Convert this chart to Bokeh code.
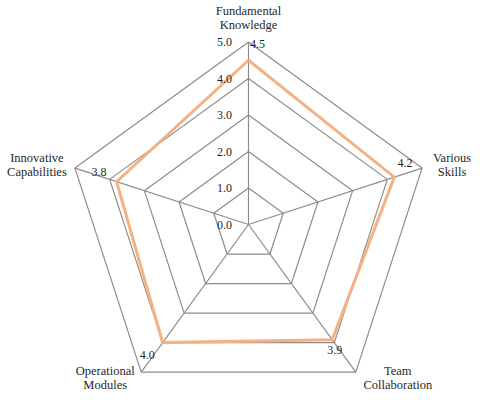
import numpy as np
from bokeh.plotting import figure
from bokeh.models import Range1d
from bokeh.core.properties import value
from bokeh.embed import file_html
from bokeh.resources import INLINE

categories = ["Fundamental\nKnowledge", "Various\nSkills", "Team\nCollaboration",
              "Operational\nModules", "Innovative\nCapabilities"]
scores = [4.5, 4.2, 3.9, 4.0, 3.8]
ring_values = [0.0, 1.0, 2.0, 3.0, 4.0, 5.0]
ring_labels = ["0.0", "1.0", "2.0", "3.0", "4.0", "5.0"]
max_value = 5.0

# styling (pixel offsets for labels, screen coords: +y is down)
cat_offsets = [(0, -24), (30, -3), (42, 6), (-36, 6), (-38, -3)]
val_offsets = [(9, 1.5), (-17, -5), (-21, -22), (6, -17), (24, 4)]

PX = 36.5  # pixels per unit
W, H = 472, 392
CX, CY = 248, 224
p = figure(width=W, height=H, output_backend="svg", toolbar_location=None,
           x_range=Range1d(-CX / PX, (W - CX) / PX), y_range=Range1d(-(H - CY) / PX, CY / PX),
           min_border=0)
p.axis.visible = False
p.grid.visible = False
p.outline_line_color = None
p.background_fill_color = "white"

n = len(categories)
ang = np.pi / 2 - np.arange(n) * 2 * np.pi / n
cx, cy = np.cos(ang), np.sin(ang)

grid_col = "#8c8c8c"
# rings
xs = [list(np.append(cx * r, cx[0] * r)) for r in ring_values[1:]]
ys = [list(np.append(cy * r, cy[0] * r)) for r in ring_values[1:]]
p.multi_line(xs, ys, line_color=grid_col, line_width=1.2)
# spokes
p.segment(x0=[0] * n, y0=[0] * n, x1=list(cx * max_value), y1=list(cy * max_value),
          line_color=grid_col, line_width=1.2)

# data
sv = np.array(scores)
p.line(list(np.append(cx * sv, cx[0] * sv[0])), list(np.append(cy * sv, cy[0] * sv[0])),
       line_color="#F4B183", line_width=3, line_join="miter")

font = value("Liberation Serif")
txt_col = "#1f1f1f"

# ring labels
p.text(x=[-24 / PX] * len(ring_values), y=ring_values, text=ring_labels,
       text_font=font, text_font_size="12px", text_color=txt_col,
       text_align="center", text_baseline="middle")

# value labels
for i in range(n):
    p.text(x=[cx[i] * max_value], y=[cy[i] * max_value], text=[f"{scores[i]:.1f}"],
           x_offset=val_offsets[i][0], y_offset=val_offsets[i][1],
           text_font=font, text_font_size="12px", text_color=txt_col,
           text_align="center", text_baseline="middle")

# category labels
for i in range(n):
    lines = categories[i].split("\n")
    for j, ln in enumerate(lines):
        p.text(x=[cx[i] * max_value], y=[cy[i] * max_value], text=[ln],
               x_offset=cat_offsets[i][0],
               y_offset=cat_offsets[i][1] + (j - (len(lines) - 1) / 2) * 14.5,
               text_font=font, text_font_size="12.5px", text_color=txt_col,
               text_align="center", text_baseline="middle")

open("out.html", "w").write(file_html(p, INLINE))
